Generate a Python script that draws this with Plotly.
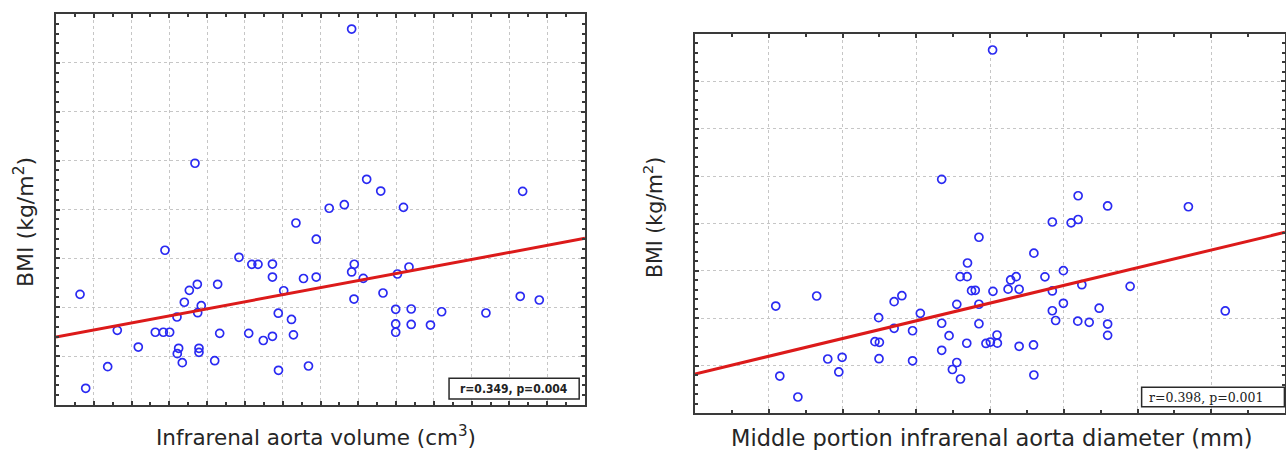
import plotly.graph_objects as go

# ---------------- data ----------------
left_volume = [13.18, 13.93, 16.84, 18.11, 20.89, 23.14, 24.20, 25.04, 24.42, 26.01,
               26.23, 26.05, 26.71, 26.98, 27.64, 28.70, 29.22, 28.75, 28.92, 28.92,
               31.00, 31.39, 31.66, 28.39, 34.21, 35.50, 35.91, 36.73, 37.43, 38.64,
               38.64, 38.64, 39.41, 39.44, 40.13, 41.16, 41.42, 41.75, 42.75, 43.41,
               44.44, 44.43, 46.15, 48.15, 49.12, 49.47, 49.12, 50.66, 49.43, 51.11,
               52.97, 53.27, 55.18, 55.98, 56.71, 54.95, 54.95, 54.95, 57.00, 57.00,
               59.55, 61.03, 66.89, 71.43, 73.95, 71.75]
left_bmi = [26.32, 16.71, 18.92, 22.64, 20.93, 22.44, 22.44, 22.44, 30.83, 24.00,
            20.80, 20.25, 19.33, 25.51, 26.73, 27.35, 25.16, 24.44, 20.80, 20.39,
            19.53, 27.35, 22.33, 39.73, 30.11, 22.33, 29.39, 29.39, 21.60, 29.42,
            28.09, 22.03, 24.39, 18.55, 26.69, 23.75, 22.18, 33.62, 27.94, 18.99,
            31.96, 28.09, 35.13, 35.49, 53.46, 29.40, 28.61, 27.96, 25.84, 38.09,
            36.89, 26.46, 28.40, 35.22, 29.12, 24.79, 23.29, 22.44, 24.82, 23.24,
            23.18, 24.54, 24.41, 26.12, 25.74, 36.86]

right_diameter = [12.19, 13.30, 12.30, 12.79, 13.60, 13.99, 13.90, 14.98, 15.40, 15.61,
                  15.40, 15.90, 16.11, 14.88, 15.00, 14.99, 15.90, 16.69, 16.89, 16.69,
                  17.10, 17.10, 16.98, 17.20, 17.39, 17.19, 17.38, 17.50, 17.60, 17.37,
                  16.69, 18.07, 17.70, 19.19, 18.08, 18.49, 18.56, 18.71, 18.79, 19.49,
                  19.99, 19.69, 20.49, 17.70, 19.99, 20.96, 17.70, 19.69, 19.78, 20.38,
                  20.69, 18.19, 17.89, 18.01, 18.20, 18.79, 19.18, 19.19, 20.39, 19.69,
                  20.20, 20.39, 21.19, 23.38, 21.80, 21.19, 21.19, 24.38]
right_bmi = [26.29, 27.35, 18.90, 16.69, 20.70, 20.88, 19.33, 25.06, 26.75, 27.38,
             23.94, 23.68, 25.52, 22.53, 22.46, 20.73, 20.51, 24.47, 23.16, 21.62,
             26.47, 20.33, 19.59, 18.59, 30.83, 29.39, 29.39, 27.91, 27.95, 22.36,
             39.66, 53.31, 33.55, 31.87, 27.84, 28.07, 29.04, 29.39, 28.06, 29.37,
             30.02, 27.88, 28.54, 26.48, 26.58, 26.06, 24.42, 25.79, 24.76, 24.69,
             24.57, 23.23, 22.34, 22.49, 22.37, 22.04, 22.18, 19.01, 37.93, 35.16,
             35.07, 35.42, 36.85, 36.77, 28.37, 24.39, 23.20, 25.77]

# regression lines (end points at the axis limits)
left_fit_x = [10, 80]
left_fit_y = [21.96, 32.05]
right_fit_x = [10, 26]
right_fit_y = [19.12, 34.07]

left_stats = "r=0.349, p=0.004"
right_stats = "r=0.398, p=0.001"
left_xtitle = "Infrarenal aorta volume (cm<sup>3</sup>)"
right_xtitle = "Middle portion infrarenal aorta diameter (mm)"
ytitle = "BMI (kg/m<sup>2</sup>)"

# ---------------- figure ----------------
W, H = 1286, 450
BLUE = "#2a2af2"
RED = "#dc1a1a"

fig = go.Figure()
marker = dict(symbol="circle-open", size=8, color=BLUE, line=dict(color=BLUE, width=1.7))

fig.add_trace(go.Scatter(x=left_volume, y=left_bmi, mode="markers", marker=marker,
                         xaxis="x", yaxis="y", showlegend=False))
fig.add_trace(go.Scatter(x=left_fit_x, y=left_fit_y, mode="lines",
                         line=dict(color=RED, width=3), xaxis="x", yaxis="y", showlegend=False))
fig.add_trace(go.Scatter(x=right_diameter, y=right_bmi, mode="markers", marker=marker,
                         xaxis="x2", yaxis="y2", showlegend=False))
fig.add_trace(go.Scatter(x=right_fit_x, y=right_fit_y, mode="lines",
                         line=dict(color=RED, width=3), xaxis="x2", yaxis="y2", showlegend=False))

FRAME = "#3a3a3a"
common = dict(showline=True, linecolor=FRAME, linewidth=2, mirror="ticks",
              ticks="inside", ticklen=4, tickwidth=1.5, tickcolor=FRAME,
              showticklabels=False, showgrid=True, gridcolor="#c6c6c6",
              griddash="dot", gridwidth=1, zeroline=False)


def px_x(a, b):
    return [a / W, b / W]


def px_y(top, bottom):
    return [1 - bottom / H, 1 - top / H]


fig.update_layout(
    width=W, height=H,
    margin=dict(l=0, r=0, t=0, b=0),
    paper_bgcolor="white", plot_bgcolor="white",
    xaxis=dict(domain=px_x(56, 585), range=[10, 80], tick0=10, dtick=5,
               minor=dict(dtick=2.5, ticks="inside", ticklen=3, tickcolor=FRAME, showgrid=False),
               anchor="y", **common),
    yaxis=dict(domain=px_y(14, 405), range=[15, 55], tick0=15, dtick=5,
               minor=dict(dtick=1, ticks="inside", ticklen=3, tickcolor=FRAME, showgrid=False),
               anchor="x", **common),
    xaxis2=dict(domain=px_x(695, 1285), range=[10, 26], tick0=10, dtick=2,
                minor=dict(dtick=1, ticks="inside", ticklen=3, tickcolor=FRAME, showgrid=False),
                anchor="y2", **common),
    yaxis2=dict(domain=px_y(34, 413), range=[15, 55], tick0=15, dtick=5,
                minor=dict(dtick=1, ticks="inside", ticklen=3, tickcolor=FRAME, showgrid=False),
                anchor="x2", **common),
)

TITLE_FONT = "DejaVu Sans"
TITLE_COLOR = "#262626"
ann = []
# axis titles
ann.append(dict(text=ytitle, xref="paper", yref="paper", x=24 / W, y=1 - 222 / H,
                textangle=-90, showarrow=False, xanchor="center", yanchor="middle",
                font=dict(family=TITLE_FONT, size=22, color=TITLE_COLOR)))
ann.append(dict(text=ytitle, xref="paper", yref="paper", x=653 / W, y=1 - 218 / H,
                textangle=-90, showarrow=False, xanchor="center", yanchor="middle",
                font=dict(family=TITLE_FONT, size=20.5, color=TITLE_COLOR)))
ann.append(dict(text=left_xtitle, xref="paper", yref="paper", x=315.5 / W, y=1 - 436 / H,
                showarrow=False, xanchor="center", yanchor="middle",
                font=dict(family=TITLE_FONT, size=21.5, color=TITLE_COLOR)))
ann.append(dict(text=right_xtitle, xref="paper", yref="paper", x=992 / W, y=1 - 438 / H,
                showarrow=False, xanchor="center", yanchor="middle",
                font=dict(family=TITLE_FONT, size=22.5, color=TITLE_COLOR)))
# statistics text
ann.append(dict(text="<b>" + left_stats + "</b>", xref="x domain", yref="y domain",
                x=0.866, y=0.042, showarrow=False, xanchor="center", yanchor="middle",
                font=dict(family="DejaVu Sans Condensed", size=12, color="#222")))
ann.append(dict(text=right_stats, xref="x2 domain", yref="y2 domain",
                x=0.766, y=0.042, showarrow=False, xanchor="left", yanchor="middle",
                font=dict(family="DejaVu Serif", size=12.5, color="#222")))
fig.update_layout(annotations=ann)

# boxes around the statistics
fig.add_shape(type="rect", xref="x domain", yref="y domain",
              x0=0.743, x1=0.989, y0=0.0153, y1=0.0683,
              line=dict(color="#2a2a2a", width=1.5), fillcolor="white", layer="above")
fig.add_shape(type="rect", xref="x2 domain", yref="y2 domain",
              x0=0.757, x1=0.999, y0=0.0166, y1=0.0678,
              line=dict(color="#2a2a2a", width=1.5), fillcolor="white", layer="above")

fig.write_html("out.html", config={"displayModeBar": False},
               post_script="document.body.style.margin='0';document.body.style.overflow='hidden';")
